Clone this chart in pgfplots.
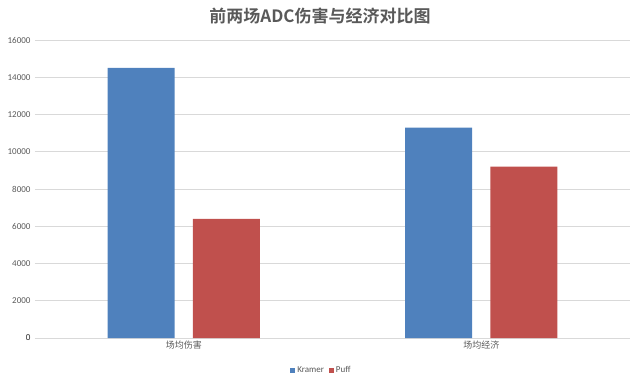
\documentclass[border=0pt]{standalone}
\usepackage{pgfplots}
\pgfplotsset{compat=1.18}
\usepackage{fontspec}
\setmainfont{Carlito}
\newfontfamily\cjk[BoldFont={Noto Sans CJK SC Bold}]{Noto Sans CJK SC}
\definecolor{kblue}{HTML}{4F81BD}
\definecolor{pred}{HTML}{C0504D}
\definecolor{txtgray}{HTML}{595959}
\definecolor{gridgray}{HTML}{D9D9D9}
\begin{document}
\begin{tikzpicture}[x=1pt,y=1pt]
\useasboundingbox (0,0) rectangle (640,383);
\node[text=txtgray,font=\cjk\bfseries\fontsize{17}{19}\selectfont] at (320,367) {前两场ADC伤害与经济对比图};
\begin{axis}[
  at={(35pt,45pt)}, anchor=south west,
  scale only axis, width=595pt, height=298pt,
  xmin=-0.5, xmax=1.5, ymin=0, ymax=16000,
  xtick={0,1}, xticklabels={场均伤害,场均经济},
  xticklabel style={font=\cjk\fontsize{9}{10}\selectfont, text=txtgray},
  ytick={0,2000,...,16000},
  yticklabel style={font=\fontsize{9}{10}\selectfont, text=txtgray},
  /pgf/number format/assume math mode=true,
  scaled y ticks=false,
  yticklabel={\pgfmathprintnumber[fixed,1000 sep={}]{\tick}},
  ymajorgrids, major grid style={gridgray, line width=0.75pt},
  axis line style={draw=none},
  axis x line*=bottom, axis y line*=left,
  extra y ticks={0}, extra y tick style={grid style={gridgray,line width=0.9pt}},
  major tick length=0pt,
  yticklabel style={xshift=-1pt},
  xticklabel style={yshift=1pt},
  legend style={at={(0.4815,-0.108)}, anchor=center, draw=none, legend columns=2,
    font=\fontsize{9}{10}\selectfont, text=txtgray,
    /tikz/every even column/.append style={column sep=3pt}},
  legend image code/.code={\fill[#1] (0pt,-2.5pt) rectangle (5pt,2.5pt);},
  clip=false,
]
\addplot[ybar, bar width=0.225, bar shift=-0.143, fill=kblue, draw=none] coordinates {(0,14500) (1,11300)};
\addplot[ybar, bar width=0.225, bar shift=0.143, fill=pred, draw=none] coordinates {(0,6400) (1,9200)};
\legend{Kramer,Puff}
\end{axis}
\end{tikzpicture}
\end{document}
